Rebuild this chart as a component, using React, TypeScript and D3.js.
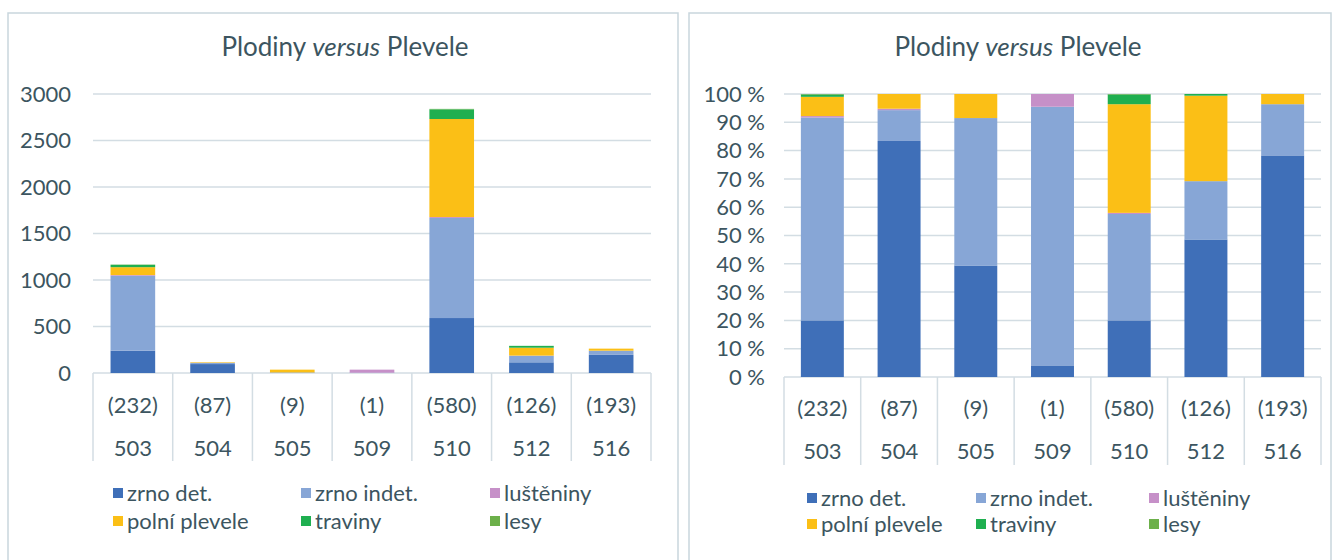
import React from 'react';
import * as d3 from 'd3';

const categories = ['503', '504', '505', '509', '510', '512', '516'];
const sampleCounts = ['(232)', '(87)', '(9)', '(1)', '(580)', '(126)', '(193)'];
const seriesNames = ['zrno det.', 'zrno indet.', 'luštěniny', 'polní plevele', 'traviny', 'lesy'];
const seriesColors = ['#3f6fb8', '#87a6d6', '#c690c8', '#fbbf16', '#1faf50', '#6cb04a'];

// left chart: absolute counts
const zrnoDetAbs = [240, 96, 2, 0, 591, 115, 195];
const zrnoIndetAbs = [805, 13, 4, 3, 1076, 70, 45];
const lusteninyAbs = [8, 0.5, 0, 33, 10, 2, 0];
const polniPleveleAbs = [85, 6, 30, 0, 1054, 85, 22];
const travinyAbs = [25, 0, 0, 0, 104, 20, 0];
const lesyAbs = [3, 0, 0, 0, 5, 0, 0];

// right chart: percentages
const zrnoDetPct = [20, 83.4, 39.4, 4.1, 20, 48.6, 78.3];
const zrnoIndetPct = [71.7, 10.9, 52.1, 91.4, 37.6, 20.6, 18.1];
const lusteninyPct = [0.5, 0.5, 0, 4.5, 0.4, 0, 0];
const polniPlevelePct = [6.8, 5.2, 8.5, 0, 38.4, 30.2, 3.6];
const travinyPct = [0.8, 0, 0, 0, 3.4, 0.6, 0];
const lesyPct = [0.2, 0, 0, 0, 0.2, 0, 0];

const absTicks = [0, 500, 1000, 1500, 2000, 2500, 3000];
const pctTicks = [0, 10, 20, 30, 40, 50, 60, 70, 80, 90, 100];

const TEXT = '#3c5560';
const GRID = '#d3dde3';
const FONT = 'Lato, "Open Sans", sans-serif';

type Cfg = {
  series: number[][];
  panel: [number, number, number, number];
  plotX: [number, number];
  plotY: [number, number];
  yMax: number;
  ticks: number[];
  fmt: (v: number) => string;
  labelRight: number;
  titleX: number;
  rowY: [number, number];
  tableBottom: number;
  legendX: [number, number, number];
  legendY: [number, number];
};

function Chart({ cfg }: { cfg: Cfg }) {
  const x = d3.scaleBand<string>().domain(categories).range(cfg.plotX).paddingInner(0).paddingOuter(0);
  const y = d3.scaleLinear().domain([0, cfg.yMax]).range(cfg.plotY);
  const bw = x.bandwidth() * 0.56;
  const rows = categories.map((c, i) => {
    const r: any = { cat: c };
    seriesNames.forEach((s, j) => (r[s] = cfg.series[j][i]));
    return r;
  });
  const stacked = d3.stack<any>().keys(seriesNames)(rows);
  const [px, py, pw, ph] = cfg.panel;
  const boundaries = categories.map((c) => x(c)!).concat([cfg.plotX[1]]);
  return (
    <g>
      <rect x={px} y={py} width={pw} height={ph} fill="#fff" stroke="#c9d6dd" strokeWidth={1.5} />
      <text x={cfg.titleX} y={56} textAnchor="middle" fontSize={26} fill={TEXT} fontFamily={FONT}>
        Plodiny <tspan fontStyle="italic">versus</tspan> Plevele
      </text>
      {cfg.ticks.map((t) => (
        <g key={t}>
          <line x1={cfg.plotX[0]} x2={cfg.plotX[1]} y1={y(t)} y2={y(t)} stroke={GRID} strokeWidth={1.5} />
          <text x={cfg.labelRight} y={y(t)} dy="0.35em" textAnchor="end" fontSize={22} fill={TEXT} fontFamily={FONT}>
            {cfg.fmt(t)}
          </text>
        </g>
      ))}
      {boundaries.map((bx, i) => (
        <line key={i} x1={bx} x2={bx} y1={y(0)} y2={cfg.tableBottom} stroke={GRID} strokeWidth={1.5} />
      ))}
      {stacked.map((layer, j) => (
        <g key={j} fill={seriesColors[j]}>
          {layer.map((d, i) => {
            const h = y(d[0]) - y(d[1]);
            if (h <= 0) return null;
            return (
              <rect key={i} x={x(categories[i])! + (x.bandwidth() - bw) / 2} y={y(d[1])} width={bw} height={h} />
            );
          })}
        </g>
      ))}
      {categories.map((c, i) => (
        <g key={c} fontSize={22} fill={TEXT} fontFamily={FONT} textAnchor="middle">
          <text x={x(c)! + x.bandwidth() / 2} y={cfg.rowY[0]} dy="0.35em">{sampleCounts[i]}</text>
          <text x={x(c)! + x.bandwidth() / 2} y={cfg.rowY[1]} dy="0.35em">{c}</text>
        </g>
      ))}
      {seriesNames.map((s, j) => {
        const col = j % 3;
        const row = Math.floor(j / 3);
        const lx = cfg.legendX[col];
        const ly = cfg.legendY[row];
        return (
          <g key={s}>
            <rect x={lx - 14} y={ly - 5} width={10} height={10} fill={seriesColors[j]} />
            <text x={lx} y={ly} dy="0.35em" fontSize={22} fill={TEXT} fontFamily={FONT}>{s}</text>
          </g>
        );
      })}
    </g>
  );
}

export default function App() {
  const left: Cfg = {
    series: [zrnoDetAbs, zrnoIndetAbs, lusteninyAbs, polniPleveleAbs, travinyAbs, lesyAbs],
    panel: [8, 13, 670, 560],
    plotX: [93, 651],
    plotY: [373, 94],
    yMax: 3000,
    ticks: absTicks,
    fmt: (v) => String(v),
    labelRight: 71,
    titleX: 345,
    rowY: [405, 448],
    tableBottom: 461,
    legendX: [127, 315, 504],
    legendY: [493, 521],
  };
  const right: Cfg = {
    series: [zrnoDetPct, zrnoIndetPct, lusteninyPct, polniPlevelePct, travinyPct, lesyPct],
    panel: [689, 13, 642, 560],
    plotX: [784, 1321],
    plotY: [377, 94],
    yMax: 100,
    ticks: pctTicks,
    fmt: (v) => `${v} %`,
    labelRight: 765,
    titleX: 1018,
    rowY: [408, 451],
    tableBottom: 465,
    legendX: [821, 990, 1163],
    legendY: [498, 524],
  };
  return (
    <svg width={1334} height={560} style={{ position: 'absolute', left: 0, top: 0, background: '#fff' }}>
      <rect x={0} y={0} width={1334} height={560} fill="#fff" />
      <Chart cfg={left} />
      <Chart cfg={right} />
    </svg>
  );
}
